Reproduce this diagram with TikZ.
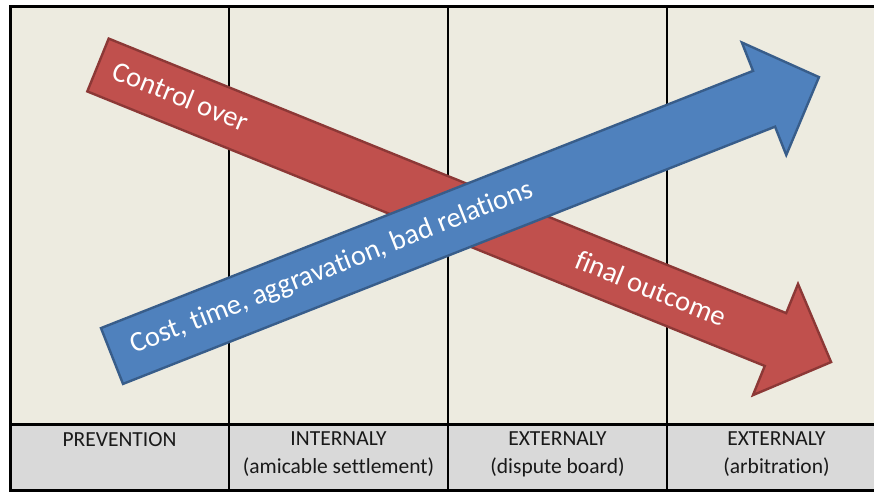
\documentclass[tikz,border=0pt]{standalone}
\usepackage{fontspec}
\setmainfont[Ligatures={NoCommon}]{Carlito}
\definecolor{paneltop}{HTML}{EDEBE0}
\definecolor{panelbot}{HTML}{D9D9D9}
\definecolor{redfill}{HTML}{C0504D}
\definecolor{redline}{HTML}{8C3836}
\definecolor{bluefill}{HTML}{4F81BD}
\definecolor{blueline}{HTML}{385D8A}
\begin{document}
\begin{tikzpicture}[x=1pt,y=-1pt,
  frame/.style={line width=3pt, black},
  divider/.style={line width=2.2pt, black},
  redarrow/.style={fill=redfill, draw=redline, line width=2.4pt, line join=miter},
  bluearrow/.style={fill=bluefill, draw=blueline, line width=2.4pt, line join=miter},
  arrowtext/.style={text=white, font=\fontsize{28.5}{32}\selectfont, inner sep=0pt},
  stagelabel/.style={align=center, font=\fontsize{21.5}{28}\selectfont, text=black!90, inner sep=0pt}]
\useasboundingbox (0,0) rectangle (874,491);
% panels
\fill[paneltop] (10,6) rectangle (890,424);
\fill[panelbot] (10,424) rectangle (890,490);
% column dividers
\foreach \xc in {229,448,667} \draw[divider] (\xc,6) -- (\xc,490);
% frame
\draw[frame] (890,6) -- (10,6) -- (10,490) -- (890,490);
\draw[frame] (10,424) -- (890,424);
% control arrow (down-right)
\begin{scope}[shift={(98,65)}, rotate=-22.06]
  \draw[redarrow] (0,-28.5) -- (731,-28.5) -- (731,-60) -- (791,0) -- (731,60) -- (731,28.5) -- (0,28.5) -- cycle;
\end{scope}
% cost arrow (up-right)
\begin{scope}[shift={(112,356)}, rotate=21.53]
  \draw[bluearrow] (0,-30) -- (701,-30) -- (701,-60.5) -- (760,0) -- (701,60.5) -- (701,30) -- (0,30) -- cycle;
\end{scope}
% arrow captions
\node[arrowtext, rotate=-22.06] (ctrl) at (181,96) {Control over};
\node[arrowtext, rotate=-22.06] (outc) at (651,288) {final outcome};
\node[arrowtext, rotate=21.53] (cost) at (332,268) {Cost, time, aggravation, bad relations};
% stage labels
\node[stagelabel] (prev) at (119.5,440) {PREVENTION};
\node[stagelabel] (intl) at (338.5,454) {INTERNALY\\(amicable settlement)};
\node[stagelabel] (disp) at (557.5,454) {EXTERNALY\\(dispute board)};
\node[stagelabel] (arb) at (776.5,454) {EXTERNALY\\(arbitration)};
\end{tikzpicture}
\end{document}
